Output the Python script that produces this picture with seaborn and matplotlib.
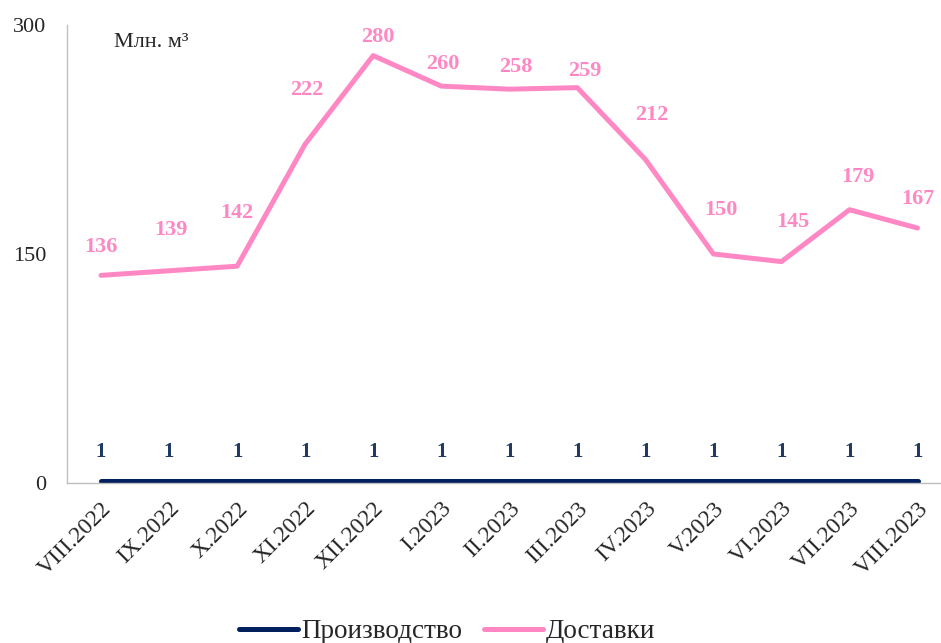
import pandas as pd
import matplotlib
matplotlib.use("Agg")
import matplotlib.pyplot as plt
import seaborn as sns

# данные
months = ["VIII.2022", "IX.2022", "X.2022", "XI.2022", "XII.2022", "I.2023", "II.2023",
          "III.2023", "IV.2023", "V.2023", "VI.2023", "VII.2023", "VIII.2023"]
production = [1, 1, 1, 1, 1, 1, 1, 1, 1, 1, 1, 1, 1]
deliveries = [136, 139, 142, 222, 280, 260, 258, 259, 212, 150, 145, 179, 167]

# смещение подписей (пиксели от точки)
label_dx = [0, 2, 0, 2, 5, 2, 7, 8, 6, 8, 11, 8, 0]
label_dy = [28, 41, 53, 54, 19, 22, 22, 17, 44, 44, 40, 33, 29]

navy = "#002060"
pink = "#FF88C4"

sns.set_style("white")
plt.rcParams['font.family'] = ['Liberation Serif', 'DejaVu Serif']

df = pd.DataFrame({
    'x': list(range(len(months))) * 2,
    'value': production + deliveries,
    'series': ['Производство'] * len(months) + ['Доставки'] * len(months),
})

fig = plt.figure(figsize=(9.41, 6.43), dpi=100)
ax = fig.add_axes([0.0712, 0.249, 0.94, 0.712])

sns.lineplot(data=df, x='x', y='value', hue='series',
             palette={'Производство': navy, 'Доставки': pink},
             linewidth=3.6, ax=ax, legend=False)

# подписи значений
px = 0.72  # пиксели -> пункты
for i, v in enumerate(deliveries):
    ax.annotate(str(v), (i, v), xytext=(label_dx[i] * px, label_dy[i] * px),
                textcoords='offset points', ha='center', va='center',
                color=pink, fontsize=16, fontweight='bold')
for i, v in enumerate(production):
    ax.annotate(str(v), (i, v), xytext=(0, 29 * px), textcoords='offset points',
                ha='center', va='center', color="#1F3864", fontsize=15, fontweight='bold')

ax.set_xlim(-0.5, 12.5)
ax.set_ylim(0, 300)
ax.set_yticks([0, 150, 300])
ax.set_xticks(range(len(months)))
ax.set_xticklabels(months, rotation=45, ha='right', rotation_mode='anchor', fontsize=17)
ax.tick_params(axis='y', labelsize=16, length=0, pad=15)
ax.tick_params(axis='x', length=0, pad=11)
ax.set_xlabel("")
ax.set_ylabel("")

for s in ['top', 'right']:
    ax.spines[s].set_visible(False)
for s in ['left', 'bottom']:
    ax.spines[s].set_color("#BFBFBF")
    ax.spines[s].set_linewidth(1)

ax.text(0.053, 0.982, "Млн. м³", transform=ax.transAxes, fontsize=16, va='top')

handles = [plt.Line2D([], [], color=navy, linewidth=3.6),
           plt.Line2D([], [], color=pink, linewidth=3.6)]
fig.legend(handles, ['Производство', 'Доставки'], loc='lower center',
           bbox_to_anchor=(0.475, -0.04), ncol=2, frameon=False, fontsize=19.5,
           handlelength=2.2, handletextpad=0.1, columnspacing=0.8)

fig.savefig("out.png", dpi=100)
